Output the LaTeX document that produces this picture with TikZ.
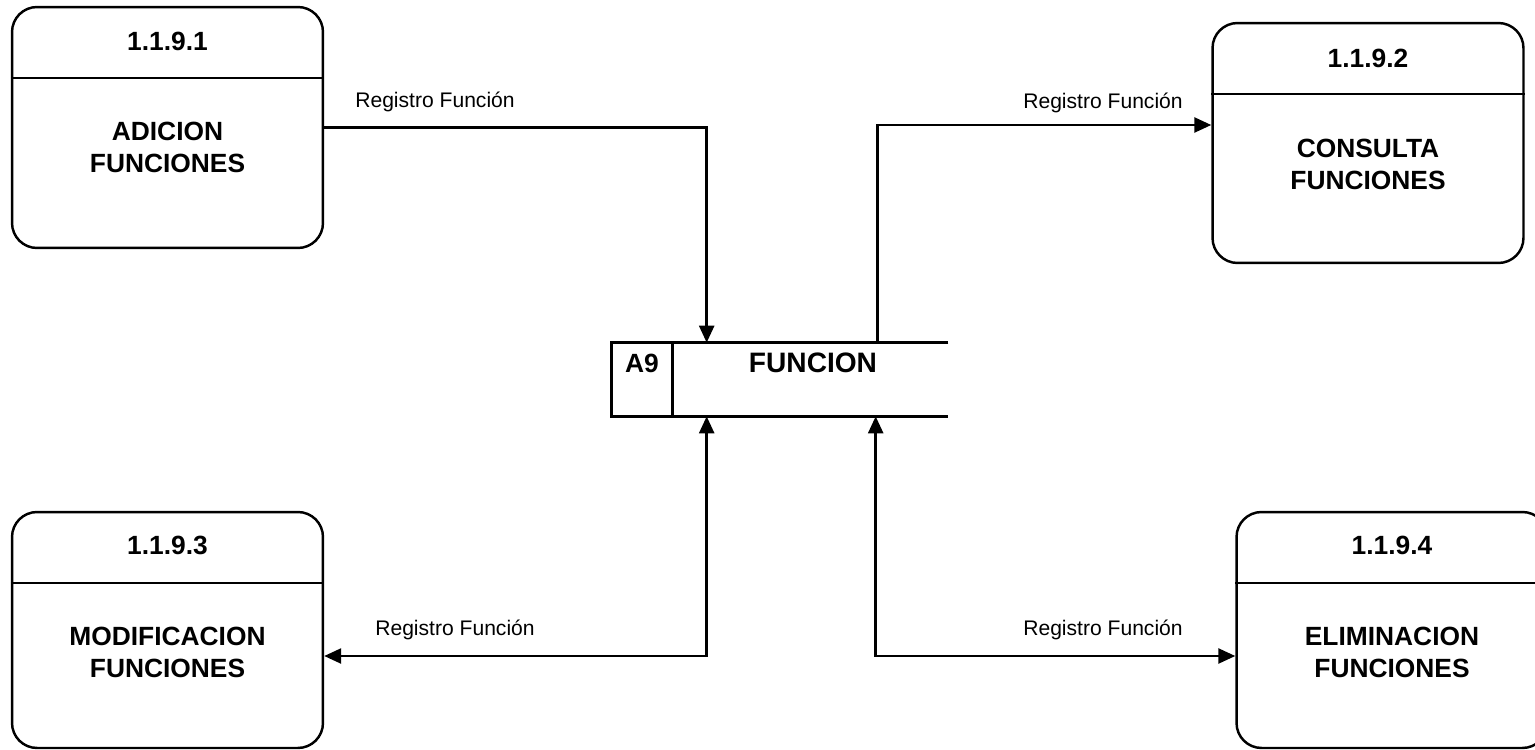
\documentclass[tikz,border=0pt]{standalone}
\usepackage{fontspec}
\setmainfont{Liberation Sans}
\usetikzlibrary{calc,arrows.meta,positioning}
\tikzset{proc/.style={draw,line width=1.4pt,rounded corners=0.5cm,minimum width=6.22cm,inner sep=0pt},
num/.style={font=\fontsize{15}{18}\selectfont\bfseries},
pname/.style={font=\fontsize{15}{18.2}\selectfont\bfseries,align=center},
flw/.style={line width=1.4pt,-{Triangle[length=0.34cm,width=0.3cm]}},
flwb/.style={line width=1.4pt,{Triangle[length=0.34cm,width=0.3cm]}-{Triangle[length=0.34cm,width=0.3cm]}},
flwlab/.style={font=\fontsize{12}{14}\selectfont}}

\begin{document}
\begin{tikzpicture}[x=0.02cm,y=-0.02cm]
\useasboundingbox (0,0) rectangle (1535,750);

% processes
\node[proc,minimum height=4.82cm] (p1) at (167.5,127.5) {};
\node[proc,minimum height=4.80cm] (p2) at (1368,143) {};
\node[proc,minimum height=4.72cm] (p3) at (167.5,630) {};
\node[proc,minimum height=4.72cm] (p4) at (1392,630) {};

\node[num] (n1) at ($(p1.north)+(0,36)$) {1.1.9.1};
\node[num] (n2) at ($(p2.north)+(0,37)$) {1.1.9.2};
\node[num] (n3) at ($(p3.north)+(0,35)$) {1.1.9.3};
\node[num] (n4) at ($(p4.north)+(0,35)$) {1.1.9.4};
\draw[line width=1.4pt] ($(p1.north west)+(0,72)$)--($(p1.north east)+(0,72)$)
($(p2.north west)+(0,72)$)--($(p2.north east)+(0,72)$)
($(p3.north west)+(0,72)$)--($(p3.north east)+(0,72)$)
($(p4.north west)+(0,72)$)--($(p4.north east)+(0,72)$);
\node[pname] (t1) at ($(p1.north)+(0,142)$) {ADICION\\FUNCIONES};
\node[pname] (t2) at ($(p2.north)+(0,143)$) {CONSULTA\\FUNCIONES};
\node[pname] (t3) at ($(p3.north)+(0,142)$) {MODIFICACION\\FUNCIONES};
\node[pname] (t4) at ($(p4.north)+(0,142)$) {ELIMINACION\\FUNCIONES};

% data store
\node[minimum width=6.72cm,minimum height=1.46cm,inner sep=0pt] (st) at (780,379.5) {};
\draw[line width=1.4pt] (st.north east)--(st.north west)--(st.south west)--(st.south east);
\draw[line width=1.4pt] ($(st.north west)+(61,0)$)--($(st.south west)+(61,0)$);
\node[num] (a9) at (642,363) {A9};
\node[font=\fontsize{16}{19}\selectfont\bfseries] (stname) at (813,363) {FUNCION};

% flows
\draw[flw] (p1.east) -| ($(st.north west)+(95,0)$);
\draw[flw] ($(st.north west)+(266,0)$) |- ($(p2.west)+(0,-18)$);
\draw[flwb] ($(st.south west)+(95,0)$) |- ($(p3.east)+(0,26)$);
\draw[flwb] ($(st.south west)+(264,0)$) |- ($(p4.west)+(0,26)$);

\node[flwlab] (l1) at (435,102) {Registro Función};
\node[flwlab] (l2) at (1103,103) {Registro Función};
\node[flwlab] (l3) at (455,630) {Registro Función};
\node[flwlab] (l4) at (1103,630) {Registro Función};
\end{tikzpicture}
\end{document}
